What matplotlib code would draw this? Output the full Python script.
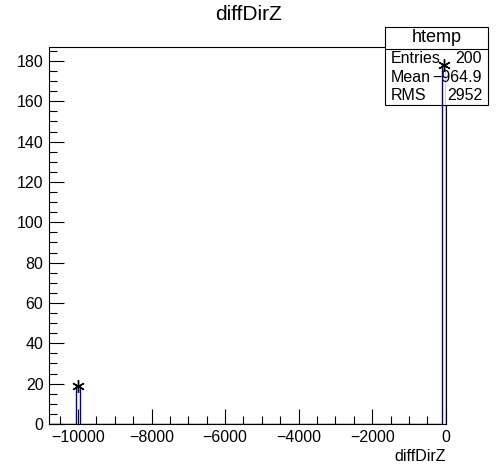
import numpy as np
import matplotlib.pyplot as plt
from matplotlib.ticker import MultipleLocator

plt.rcParams['font.family'] = ['Liberation Sans', 'DejaVu Sans']

# histogram: 100 bins on [-10800, 0]
n_bins = 100
x_lo, x_hi = -10800, 0
filled_bins = [7, 99]
filled_counts = [19, 178]

edges = np.linspace(x_lo, x_hi, n_bins + 1)
counts = np.zeros(n_bins)
counts[filled_bins] = filled_counts
centers = 0.5 * (edges[:-1] + edges[1:])

stats_labels = ['Entries', 'Mean', 'RMS']
stats_values = ['200', '\u2212964.9', '2952']

W, H = 496, 472
fig = plt.figure(figsize=(W / 100, H / 100), dpi=100)
ax = fig.add_axes([49 / W, 48 / H, 397 / W, 377 / H])

ax.stairs(counts, edges, color='#000099', lw=1.0, zorder=6)
nz = counts > 0
ax.plot(centers[nz], counts[nz], ls='none', marker=(6, 2, 0), ms=9,
        mec='black', mew=1.0, zorder=7, clip_on=False)

ax.set_xlim(-10790, 8)
ax.set_ylim(0, 186.9)

ax.xaxis.set_major_locator(MultipleLocator(2000))
ax.xaxis.set_minor_locator(MultipleLocator(500))
ax.yaxis.set_major_locator(MultipleLocator(20))
ax.yaxis.set_minor_locator(MultipleLocator(5))
ax.tick_params(which='both', direction='in', top=False, right=False,
               labelsize=11.5, width=0.8)
ax.tick_params(which='major', length=11, pad=4)
ax.tick_params(which='minor', length=6)
for s in ax.spines.values():
    s.set_linewidth(0.8)
    s.set_zorder(1)

ax.set_xlabel('diffDirZ', fontsize=11.5, loc='right', labelpad=3)
fig.text(248 / W, 1 - 15 / H, 'diffDirZ', ha='center', va='center', fontsize=15)

# stats box (drawn over the frame, under the histogram)
bx0, bx1 = 385 / W, 488 / W
by_top, by_mid, by_bot = 1 - 27 / H, 1 - 49 / H, 1 - 105 / H
ax.add_patch(plt.Rectangle((bx0, by_bot), bx1 - bx0, by_top - by_bot,
                           transform=fig.transFigure, fc='white',
                           ec='black', lw=0.8, zorder=3, clip_on=False))
ax.add_line(plt.Line2D([bx0, bx1], [by_mid, by_mid],
                       transform=fig.transFigure, color='black',
                       lw=0.8, zorder=4, clip_on=False))
ax.text((bx0 + bx1) / 2, (by_top + by_mid) / 2, 'htemp', ha='center',
        va='center', fontsize=13, zorder=5, transform=fig.transFigure)
row_h = (by_mid - by_bot) / 3
for i, (lab, val) in enumerate(zip(stats_labels, stats_values)):
    yy = by_mid - (i + 0.5) * row_h
    ax.text(bx0 + 6 / W, yy, lab, ha='left', va='center', fontsize=11.5,
            zorder=5, transform=fig.transFigure)
    ax.text(bx1 - 6 / W, yy, val, ha='right', va='center', fontsize=11.5,
            zorder=5, transform=fig.transFigure)

fig.savefig('out.png', dpi=100)
